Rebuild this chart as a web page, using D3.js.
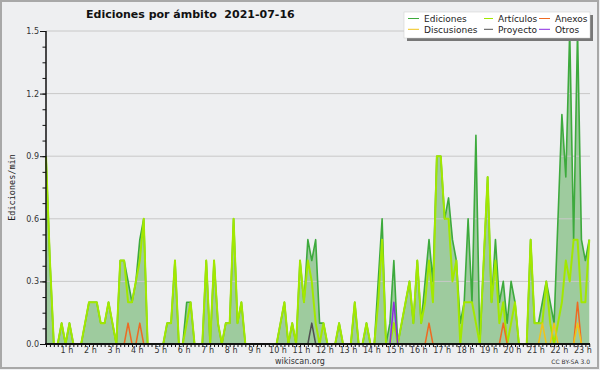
<!DOCTYPE html>
<html>
<head>
<meta charset="utf-8">
<script src="https://cdn.jsdelivr.net/npm/d3@7/dist/d3.min.js"></script>
<style>
body { margin: 0; background: #eeeff1; }
svg { display: block; font-family: "DejaVu Sans", sans-serif; }
</style>
</head>
<body>
<svg id="chart" width="600" height="370"></svg>
<script>
// edits per minute, one value per 10 minute bin, 00:00 -> 23:10
var ediciones = [
  0.9,0.4,0,0,0.1,0,0.1,0,0,0,0.1,0.2,
  0.2,0.2,0.1,0.1,0.2,0.1,0,0.4,0.4,0.3,0.2,0.3,
  0.5,0.6,0,0,0,0,0,0.1,0.1,0.4,0,0,
  0.2,0.2,0,0,0,0.4,0,0.4,0.1,0,0.1,0.1,
  0.6,0.1,0.2,0,0,0,0,0,0,0,0,0,
  0.1,0.2,0,0.1,0,0.4,0.2,0.5,0.4,0.5,0.1,0.1,
  0,0,0,0.1,0,0,0,0.2,0,0,0.1,0,
  0,0.3,0.6,0,0.1,0.4,0,0.1,0.2,0.3,0.1,0.4,
  0.1,0.3,0.5,0.3,0.9,0.9,0.6,0.7,0.5,0.4,0.1,0.2,
  0.6,0.2,1.0,0,0.4,0.8,0.2,0.5,0.2,0.3,0.1,0.3,
  0.2,0,0,0,0.5,0.1,0.1,0.2,0.3,0.2,0.1,0.6,
  1.1,0.8,1.5,0.5,1.5,0.5,0.4,0.5
];
var articulos = [
  0.9,0.4,0,0,0.1,0,0.1,0,0,0,0.1,0.2,
  0.2,0.2,0.1,0.1,0.2,0.1,0,0.4,0.4,0.2,0.2,0.3,
  0.4,0.6,0,0,0,0,0,0.1,0.1,0.4,0,0,
  0.1,0.2,0,0,0,0.4,0,0.4,0.1,0,0.1,0.1,
  0.6,0.1,0.2,0,0,0,0,0,0,0,0,0,
  0.1,0.2,0,0.1,0,0.4,0.2,0.4,0.3,0.1,0,0.1,
  0,0,0,0.1,0,0,0,0.2,0,0,0.1,0,
  0,0.2,0.5,0,0,0.1,0,0.1,0.2,0.3,0.1,0.4,
  0.1,0.2,0.4,0.2,0.9,0.9,0.6,0.6,0.3,0.4,0,0.2,
  0.2,0.2,0.1,0,0.4,0.8,0.2,0.4,0.1,0.2,0,0.1,
  0.2,0,0,0,0.5,0.1,0.1,0.1,0.3,0.1,0,0.1,
  0.2,0.4,0.3,0.5,0.5,0.2,0.2,0.5
];
var anexos = [
  0,0,0,0,0,0,0,0,0,0,0,0,
  0,0,0,0,0,0,0,0,0,0.1,0,0,
  0.1,0,0,0,0,0,0,0,0,0,0,0,
  0,0,0,0,0,0,0,0,0,0,0,0,
  0,0,0,0,0,0,0,0,0,0,0,0,
  0,0,0,0,0,0,0,0,0,0,0,0,
  0,0,0,0,0,0,0,0,0,0,0,0,
  0,0,0,0,0,0,0,0,0,0,0,0,
  0,0,0.1,0,0,0,0,0,0,0,0,0,
  0,0,0,0,0,0,0,0,0,0.1,0,0,
  0,0,0,0,0,0,0,0,0,0,0,0,
  0,0,0,0,0.2,0,0,0
];
var discusiones = [
  0,0,0,0,0,0,0,0,0,0,0,0,
  0,0,0,0,0,0,0,0,0,0,0,0,
  0,0,0,0,0,0,0,0,0,0,0,0,
  0,0,0,0,0,0,0,0,0,0,0,0,
  0,0,0,0,0,0,0,0,0,0,0,0,
  0,0,0,0,0,0,0,0,0,0,0,0,
  0,0,0,0,0,0,0,0,0,0,0,0,
  0,0,0,0,0,0,0,0,0,0,0,0,
  0,0,0,0,0,0,0,0,0,0,0,0,
  0,0,0,0,0,0,0,0,0,0,0,0,
  0,0,0,0,0,0,0,0.1,0,0,0.1,0,
  0,0,0,0,0.1,0,0,0
];
var proyecto = [
  0,0,0,0,0,0,0,0,0,0,0,0,
  0,0,0,0,0,0,0,0,0,0,0,0,
  0,0,0,0,0,0,0,0,0,0,0,0,
  0,0,0,0,0,0,0,0,0,0,0,0,
  0,0,0,0,0,0,0,0,0,0,0,0,
  0,0,0,0,0,0,0,0,0.1,0,0,0,
  0,0,0,0,0,0,0,0,0,0,0,0,
  0,0,0,0,0,0,0,0,0,0,0,0,
  0,0,0,0,0,0,0,0,0,0,0,0,
  0,0,0,0,0,0,0,0,0,0,0,0,
  0,0,0,0,0,0,0,0,0,0,0,0,
  0,0,0,0,0,0,0,0
];
var otros = [
  0,0,0,0,0,0,0,0,0,0,0,0,
  0,0,0,0,0,0,0,0,0,0,0,0,
  0,0,0,0,0,0,0,0,0,0,0,0,
  0,0,0,0,0,0,0,0,0,0,0,0,
  0,0,0,0,0,0,0,0,0,0,0,0,
  0,0,0,0,0,0,0,0,0,0,0,0,
  0,0,0,0,0,0,0,0,0,0,0,0,
  0,0,0,0,0,0.2,0,0,0,0,0,0,
  0,0,0,0,0,0,0,0,0,0,0,0,
  0,0,0,0,0,0,0,0,0,0,0,0,
  0,0,0,0,0,0,0,0,0,0,0,0,
  0,0,0,0,0,0,0,0
];
var yTicks = [0, 0.3, 0.6, 0.9, 1.2, 1.5];
var hours = d3.range(1, 24);
var binMinutes = 10;

function draw() {
  var svg = d3.select("#chart");
  var plotLeft = 46, plotRight = 590, plotTop = 31, plotBottom = 344;
  var hourWidth = 23.45;

  var x = d3.scaleLinear().domain([0, 1440]).range([plotLeft, plotLeft + 24 * hourWidth]);
  var y = d3.scaleLinear().domain([0, 1.5]).range([plotBottom, plotTop]);

  // frame
  svg.append("rect").attr("x", 1).attr("y", 1).attr("width", 597).attr("height", 367)
    .attr("fill", "#eeeff1").attr("stroke", "#a8a8a8").attr("stroke-width", 2);

  var xi = function (d, i) { return x(i * binMinutes); };

  // filled total
  svg.append("path").datum(ediciones)
    .attr("d", d3.area().x(xi).y0(y(0)).y1(function (d) { return y(d); }))
    .attr("fill", "#9ecb9e");

  // grid
  svg.append("g").selectAll("line").data(yTicks.slice(1)).enter().append("line")
    .attr("x1", plotLeft).attr("x2", plotRight)
    .attr("y1", function (d) { return y(d); }).attr("y2", function (d) { return y(d); })
    .attr("stroke", "#c8c8c8").attr("stroke-width", 1);

  var line = d3.line().x(xi).y(function (d) { return y(d); });
  var series = [
    { name: "Ediciones", data: ediciones, color: "#3daa3d", w: 1.6 },
    { name: "Artículos", data: articulos, color: "#a2e800", w: 2 },
    { name: "Anexos", data: anexos, color: "#ee6a22", w: 1.5 },
    { name: "Discusiones", data: discusiones, color: "#f0c419", w: 1.5 },
    { name: "Proyecto", data: proyecto, color: "#505050", w: 1.5 },
    { name: "Otros", data: otros, color: "#8a2be2", w: 1.5 }
  ];
  series.forEach(function (s) {
    svg.append("path").datum(s.data).attr("d", line)
      .attr("fill", "none").attr("stroke", s.color).attr("stroke-width", s.w)
      .attr("stroke-linejoin", "round");
  });

  // x axis
  var xAxis = d3.axisBottom(x).tickValues(d3.range(0, 1400, 10)).tickSize(3).tickPadding(0)
    .tickFormat(function (m) { return (m % 60 === 0 && hours.indexOf(m / 60) >= 0) ? (m / 60) + " h" : ""; });
  var gx = svg.append("g").attr("transform", "translate(0," + plotBottom + ")").call(xAxis);
  gx.select(".domain").remove();
  gx.selectAll(".tick text").attr("dx", -3).attr("fill", "#333")
    .style("font-size", "8px").style("font-family", "DejaVu Sans");
  svg.append("line").attr("x1", plotLeft - 1).attr("x2", plotRight).attr("y1", plotBottom).attr("y2", plotBottom)
    .attr("stroke", "#111").attr("stroke-width", 2);

  // y axis
  var gyMinor = svg.append("g").attr("transform", "translate(" + plotLeft + ",0)")
    .call(d3.axisLeft(y).tickValues(d3.range(0, 1.5001, 0.075)).tickSize(3.5).tickFormat(""));
  gyMinor.select(".domain").remove();
  var gy = svg.append("g").attr("transform", "translate(" + plotLeft + ",0)")
    .call(d3.axisLeft(y).tickValues(yTicks).tickSize(6).tickPadding(1).tickFormat(d3.format(".1f")));
  gy.select(".domain").remove();
  svg.selectAll(".tick line").attr("stroke", "#111");
  gy.selectAll(".tick text").attr("fill", "#333")
    .style("font-size", "8px").style("font-family", "DejaVu Sans");
  svg.append("line").attr("x1", plotLeft).attr("x2", plotLeft).attr("y1", plotTop).attr("y2", plotBottom + 1)
    .attr("stroke", "#111").attr("stroke-width", 1.5);

  // texts
  svg.append("text").attr("x", 86).attr("y", 17.5)
    .style("font-family", "DejaVu Sans").style("font-weight", "bold").style("font-size", "11px")
    .style("white-space", "pre").attr("fill", "#111")
    .text("Ediciones por ámbito  2021-07-16");
  svg.append("text").attr("transform", "translate(15," + ((plotTop + plotBottom) / 2) + ") rotate(-90)")
    .attr("text-anchor", "middle").attr("fill", "#222")
    .style("font-family", "DejaVu Sans Mono").style("font-size", "8.5px")
    .text("Ediciones/min");
  svg.append("text").attr("x", 300).attr("y", 364).attr("text-anchor", "middle").attr("fill", "#333")
    .style("font-size", "8px").text("wikiscan.org");
  svg.append("text").attr("x", 590).attr("y", 364).attr("text-anchor", "end").attr("fill", "#333")
    .style("font-size", "6px").text("CC BY-SA 3.0");

  // legend
  var lg = svg.append("g");
  lg.append("rect").attr("x", 407).attr("y", 15).attr("width", 186).attr("height", 26).attr("fill", "#777");
  lg.append("rect").attr("x", 404).attr("y", 12).attr("width", 186).attr("height", 26)
    .attr("fill", "#fff").attr("stroke", "#ccc").attr("stroke-width", 0.5);
  var legendOrder = ["Ediciones", "Artículos", "Anexos", "Discusiones", "Proyecto", "Otros"];
  var colX = [408, 484, 539], colLen = [11, 9, 11];
  legendOrder.forEach(function (name, k) {
    var s = series.filter(function (d) { return d.name === name; })[0];
    var c = k % 3, r = Math.floor(k / 3);
    var ly = 18.5 + r * 10.8;
    lg.append("line").attr("x1", colX[c]).attr("x2", colX[c] + colLen[c])
      .attr("y1", ly).attr("y2", ly).attr("stroke", s.color).attr("stroke-width", 1);
    lg.append("text").attr("x", colX[c] + colLen[c] + 5).attr("y", ly + 3.2)
      .attr("fill", "#222").style("font-size", "9px").text(name);
  });
}

draw();
</script>
</body>
</html>
